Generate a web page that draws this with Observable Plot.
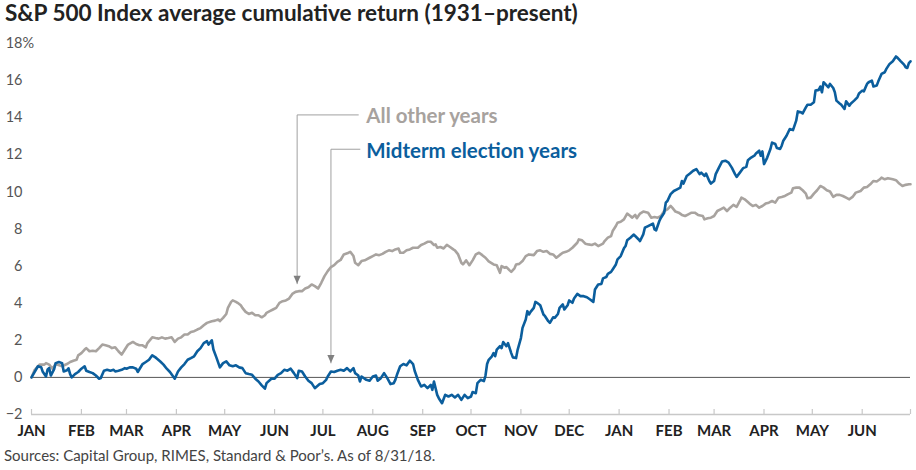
<!DOCTYPE html>
<html>
<head>
<meta charset="utf-8">
<script src="https://cdn.jsdelivr.net/npm/d3@7"></script>
<script src="https://cdn.jsdelivr.net/npm/@observablehq/plot@0.6"></script>
<style>
  body { margin: 0; background: #fff; }
  #wrap { position: relative; width: 916px; height: 470px; font-family: Lato, "Open Sans", sans-serif; overflow: hidden; }
  #title { position: absolute; left: 5px; top: -1px; font-size: 22.5px; font-weight: 700; color: #222; white-space: nowrap; }
  #source { position: absolute; left: 4px; top: 446px; font-size: 15px; color: #444; white-space: nowrap; }
  #chart { position: absolute; left: 0; top: 0; }
  #chart g[aria-label="x-axis tick label"] text { font-weight: 700; fill: #222; font-size: 15px; }
  #chart g[aria-label="y-axis tick label"] text { fill: #555; font-size: 14.5px; }
</style>
</head>
<body>
<div id="wrap">
  <div id="chart"></div>
  <div id="title">S&amp;P 500 Index average cumulative return (1931–present)</div>
  <div id="source">Sources: Capital Group, RIMES, Standard &amp; Poor’s. As of 8/31/18.</div>
</div>
<script>
// ---- Data (day offset from first January, cumulative return %) ----
const midtermDays = [0,4,6,7,9,10,11,12,14,15,17,19,20,22,23,24,25,27,29,31,33,34,36,38,40,42,43,45,47,49,51,52,54,56,58,59,61,63,65,66,69,71,73,75,77,78,80,82,84,86,88,89,91,93,95,97,99,101,103,105,107,109,110,112,113,115,117,119,121,123,125,127,129,131,133,135,137,139,141,143,145,146,149,151,153,155,157,159,161,163,165,166,168,170,172,174,176,179,181,183,184,186,188,190,192,194,196,198,200,201,203,204,205,208,210,212,214,215,217,219,221,223,225,226,227,229,231,233,235,237,238,240,242,244,246,248,249,250,252,253,255,257,259,261,263,265,267,269,271,273,274,276,277,279,281,282,283,284,286,287,288,289,291,292,293,295,296,298,299,301,302,304,305,307,308,309,310,312,313,314,316,318,319,321,322,324,325,327,328,330,331,333,334,336,337,339,341,343,345,347,349,350,352,354,355,357,358,360,361,363,364,366,368,369,370,372,374,375,377,378,380,381,383,386,387,388,390,391,393,394,395,397,399,401,403,404,405,407,409,411,413,415,416,418,419,421,422,424,425,427,429,431,433,435,437,438,440,442,444,445,447,449,450,452,453,454,455,457,459,460,462,463,465,466,467,469,471,473,475,476,478,479,481,482,484,486,487,489,490,491,492,493,495,496,498,499,500,502,503,505,506,508,509,511,513,514,516,517,519,520,522,523,525,526,528,530,531,533,535,537,538,540,542,543,544,545,546];
const midtermValues = [0,0.6,0.55,0.3,0.05,0.43,0.5,0.1,0.43,0.77,0.83,0.77,0.32,0.38,0.49,0.18,0,0.18,0.29,0.47,0.6,0.36,0.29,0.23,0.1,-0.07,-0.04,0.36,0.41,0.36,0.41,0.32,0.36,0.41,0.5,0.47,0.54,0.54,0.47,0.29,0.72,0.83,0.95,1.19,1.08,1.01,0.86,0.69,0.47,0.29,0.05,-0.07,0.32,0.54,0.72,0.95,1.04,1.14,1.41,1.58,1.85,1.95,1.77,2.0,1.5,1.04,0.54,0.77,0.86,0.65,0.6,0.65,0.54,0.5,0.23,0.18,0.14,-0.07,-0.22,-0.43,-0.61,-0.31,-0.07,-0.07,0.14,0.23,0.41,0.36,0.47,0.23,-0.04,0.36,0.32,0.05,-0.18,-0.31,-0.58,-0.36,-0.31,-0.13,0.05,0.32,0.29,0.36,0.41,0.36,0.5,0.32,0.5,0.23,0.1,-0.22,0.05,-0.13,-0.18,0.05,0.1,-0.18,-0.04,0.23,-0.04,-0.36,-0.31,-0.13,0.14,0.6,0.72,0.65,0.9,0.72,0.36,-0.13,-0.49,-0.4,-0.58,-0.4,-0.67,-0.22,-0.94,-1.12,-1.39,-0.94,-1.03,-0.94,-1.08,-0.94,-1.21,-0.94,-1.12,-1.03,-0.79,-0.85,-0.31,-0.13,-0.2,0.1,0.72,0.95,1.14,1.31,1.14,1.5,1.68,1.58,1.91,1.68,1.85,1.31,1.08,1.04,1.5,2.12,2.67,3.12,3.57,3.39,3.53,3.75,4.07,4.02,3.89,3.39,3.3,3.03,2.94,3.24,3.21,3.42,3.75,3.93,3.66,3.89,4.15,4.02,4.25,4.5,4.38,4.38,4.32,4.2,4.07,4.74,5.01,5.04,5.34,5.41,5.58,5.69,5.82,6.09,6.36,6.54,6.96,7.08,7.39,7.53,7.7,7.62,7.45,7.35,7.71,8.07,8.16,8.29,7.98,7.93,8.43,8.61,8.88,9.42,9.51,9.88,10.05,10.14,10.23,10.59,10.45,10.86,10.99,11.14,11.23,10.96,11.04,10.86,10.99,10.59,10.45,10.59,10.96,11.31,11.64,11.68,11.58,11.31,10.96,10.81,11.04,11.28,11.35,11.71,11.85,11.95,12.07,12.22,11.95,12.18,11.5,11.85,12.31,12.66,12.58,12.36,12.31,12.49,12.76,13.03,13.39,13.33,13.84,14.34,14.29,14.23,14.56,14.7,14.7,14.83,15.46,15.5,15.68,15.37,15.91,15.82,15.64,15.82,15.6,15.37,14.92,14.77,14.7,14.47,14.88,14.65,14.77,14.92,15.1,15.31,15.46,15.42,15.82,15.91,16.0,15.68,15.73,15.96,16.36,16.45,16.63,16.9,17.04,17.3,17.23,17.04,16.86,16.72,16.68,16.94,17.04];

const otherDays = [0,2,5,8,9,11,13,15,19,22,24,26,28,29,31,33,34,36,38,40,42,44,46,48,50,52,54,56,58,60,63,65,67,69,71,72,75,77,79,81,83,85,87,89,91,93,95,97,99,101,103,105,107,109,112,114,116,117,119,121,122,124,125,127,128,130,131,133,135,137,139,141,143,145,146,148,150,152,154,156,158,160,162,164,166,168,170,172,174,176,178,180,182,184,186,188,190,192,194,197,198,200,201,203,205,207,210,212,214,216,218,220,222,224,226,228,229,231,233,235,237,240,242,244,246,248,250,251,252,254,256,258,260,262,263,265,267,268,270,272,274,276,278,280,282,284,287,289,291,292,294,295,297,298,300,301,303,305,307,309,312,314,316,318,320,322,324,326,328,330,332,334,336,339,340,342,344,346,348,350,352,355,356,358,360,361,363,364,366,368,370,372,373,375,376,378,380,383,385,387,389,391,393,395,397,398,400,402,404,406,408,410,412,414,417,418,420,422,424,426,428,430,432,434,436,438,440,441,443,446,448,450,452,454,456,458,460,462,464,466,468,470,472,473,475,477,479,481,482,484,486,488,490,492,494,496,498,500,502,504,506,508,510,512,515,517,519,521,523,525,527,528,530,532,535,537,539,541,543,545,546];
const otherValues = [0,0.41,0.69,0.69,0.77,0.69,0.47,0.72,0.6,0.72,0.83,0.9,0.95,1.19,1.31,1.5,1.58,1.41,1.44,1.41,1.58,1.77,1.73,1.68,1.58,1.62,1.41,1.23,1.5,1.77,1.91,1.8,1.73,1.73,1.62,1.85,2.16,2.12,2.09,2.16,2.09,2.12,2.16,1.91,2.09,2.16,2.31,2.31,2.45,2.49,2.58,2.66,2.81,2.94,3.03,3.06,3.12,3.03,3.21,3.42,3.75,4.07,4.15,4.07,4.02,3.89,3.75,3.53,3.42,3.48,3.35,3.35,3.24,3.35,3.48,3.57,3.66,3.75,4.02,4.11,4.15,4.25,4.5,4.61,4.65,4.65,4.79,4.86,5.01,4.92,4.79,5.1,5.46,5.73,5.95,6.05,6.23,6.33,6.63,6.72,6.77,6.54,6.18,6.05,6.27,6.31,6.45,6.54,6.63,6.59,6.66,6.77,6.85,6.81,6.9,6.95,6.72,6.72,6.85,6.9,6.99,6.99,7.14,7.21,7.31,7.31,7.14,7.17,6.99,7.03,6.95,7.14,7.03,6.9,6.85,6.63,6.18,6.09,6.31,6.05,6.31,6.63,6.72,6.59,6.45,6.25,6.09,6.05,5.64,6.0,5.91,5.95,5.77,5.69,5.88,6.09,6.12,6.27,6.54,6.63,6.59,6.81,6.85,6.77,6.81,6.66,6.63,6.45,6.59,6.72,6.77,6.85,6.99,7.26,7.44,7.39,7.21,7.17,7.14,7.21,7.08,7.21,7.35,7.53,7.62,7.89,8.16,8.34,8.39,8.52,8.83,8.7,8.61,8.76,8.58,8.83,8.94,8.88,8.61,8.65,8.61,8.7,8.97,9.06,9.24,9.15,8.94,8.88,8.76,8.7,8.79,8.88,8.88,8.76,8.7,8.52,8.58,8.61,8.7,8.97,9.06,9.15,8.97,9.15,9.3,9.19,9.51,9.69,9.6,9.37,9.24,9.3,9.15,9.24,9.37,9.42,9.51,9.42,9.69,9.73,9.78,9.88,9.96,10.2,10.23,10.23,10.09,9.91,9.66,9.69,9.91,10.09,10.32,10.23,10.09,10.02,9.73,9.84,9.84,9.78,9.69,9.6,9.73,9.96,10.05,10.23,10.27,10.41,10.59,10.56,10.68,10.77,10.68,10.74,10.68,10.63,10.45,10.32,10.38,10.41,10.41];

const monthLabels = ["JAN","FEB","MAR","APR","MAY","JUN","JUL","AUG","SEP","OCT","NOV","DEC","JAN","FEB","MAR","APR","MAY","JUN"];
const yTicks = [-2,0,2,4,6,8,10,12,14,16,18];

// annotations: label, text anchor day/value, leader corner day/value, leader end day, arrow tip value
const annotationLabels = ["All other years", "Midterm election years"];
const annotationColors = ["#a7a29e", "#0b5e9d"];
const annotationTextDays = [208, 208];
const annotationTextValues = [14.07, 12.2];
const leaderDays = [165, 186];
const leaderEndDays = [203, 204];
const leaderValues = [14.15, 12.3];
const tipValues = [5.05, 0.78];

// ---- Build tables ----
const start = Date.UTC(2018, 0, 1);
const toDate = d => new Date(start + d * 864e5);
const other = otherDays.map((d, i) => ({date: toDate(d), value: otherValues[i]}));
const midterm = midtermDays.map((d, i) => ({date: toDate(d), value: midtermValues[i]}));
const monthTicks = d3.utcMonth.range(toDate(0), toDate(547));

const leaders = [];
annotationLabels.forEach((label, i) => {
  leaders.push({k: i, date: toDate(leaderEndDays[i]), value: leaderValues[i]});
  leaders.push({k: i, date: toDate(leaderDays[i]), value: leaderValues[i]});
  leaders.push({k: i, date: toDate(leaderDays[i]), value: tipValues[i]});
});
const tips = annotationLabels.map((label, i) => ({date: toDate(leaderDays[i]), value: tipValues[i]}));
const labels = annotationLabels.map((label, i) => ({label, date: toDate(annotationTextDays[i]), value: annotationTextValues[i], color: annotationColors[i]}));

const downTriangle = {
  draw(context) {
    context.moveTo(-3.6, -8);
    context.lineTo(3.6, -8);
    context.lineTo(0, 0);
    context.closePath();
  }
};

const monthFormat = d => {
  const idx = (d.getUTCFullYear() - 2018) * 12 + d.getUTCMonth();
  return monthLabels[idx] ?? "";
};

const chart = Plot.plot({
  width: 916,
  height: 470,
  marginTop: 43,
  marginBottom: 56,
  marginLeft: 31,
  marginRight: 6,
  style: {fontFamily: "Lato, 'Open Sans', sans-serif", fontSize: "14px", color: "#555", background: "transparent"},
  x: {type: "utc", domain: [toDate(0), toDate(546)], label: null},
  y: {domain: [-2, 18], label: null},
  marks: [
    Plot.ruleY([-2], {stroke: "#c8c8c8", strokeWidth: 1.3}),
    Plot.tickX(monthTicks, {x: d => d, stroke: "#c8c8c8", strokeWidth: 1.2, insetTop: 366}),
    Plot.axisX({ticks: monthTicks, tickSize: 0, tickPadding: 11, tickFormat: monthFormat, label: null}),
    Plot.axisY({ticks: yTicks, tickSize: 0, tickPadding: 9, tickFormat: d => d < 0 ? "\u2212" + Math.abs(d) : String(d), label: null}),
    Plot.text([18], {y: d => d, frameAnchor: "left", dx: -9, text: () => "%", textAnchor: "start", fill: "#555", fontSize: 14.5}),
    Plot.ruleY([0], {stroke: "#555", strokeWidth: 1}),
    Plot.line(leaders, {x: "date", y: "value", z: "k", stroke: "#a0a0a0", strokeWidth: 1}),
    Plot.dot(tips, {x: "date", y: "value", symbol: downTriangle, fill: "#808080", stroke: null, r: 4}),
    Plot.line(other, {x: "date", y: "value", stroke: "#a8a39f", strokeWidth: 2.6, strokeLinejoin: "round", curve: "linear"}),
    Plot.line(midterm, {x: "date", y: "value", stroke: "#0b5e9d", strokeWidth: 2.6, strokeLinejoin: "round", curve: "linear"}),
    Plot.text(labels, {x: "date", y: "value", text: "label", fill: "color", textAnchor: "start", fontSize: 20.5, fontWeight: 700})
  ]
});
document.getElementById("chart").appendChild(chart);
</script>
</body>
</html>
